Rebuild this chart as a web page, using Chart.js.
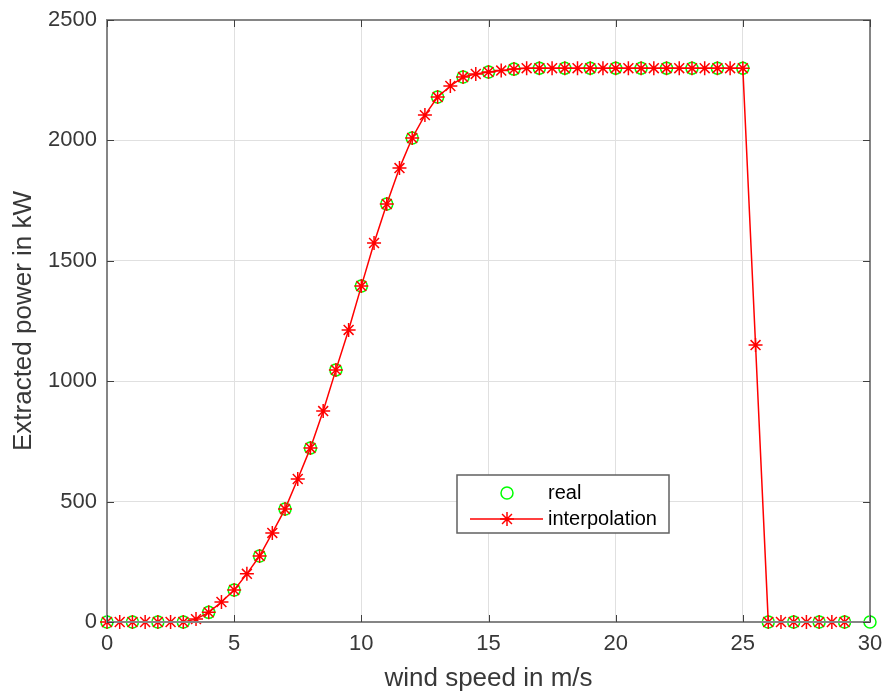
<!DOCTYPE html>
<html>
<head>
<meta charset="utf-8">
<script src="https://cdn.jsdelivr.net/npm/chart.js@4"></script>
<style>
  html, body { margin: 0; padding: 0; background: #fff; }
  #wrap { width: 884px; height: 692px; }
</style>
</head>
<body>
<div id="wrap"><canvas id="powerChart" width="884" height="692"></canvas></div>
<script>
// measured wind speed (m/s) and power (kW)
const realSpeed = [0, 1, 2, 3, 4, 5, 6, 7, 8, 9, 10, 11, 12, 13, 14, 15, 16, 17, 18, 19, 20, 21, 22, 23, 24, 25, 26, 27, 28, 29, 30];
const realPower = [0, 0, 0, 0, 40, 133, 274, 469, 723, 1047, 1395, 1736, 2010, 2180, 2263, 2284, 2296, 2300, 2300, 2300, 2300, 2300, 2300, 2300, 2300, 2300, 0, 0, 0, 0, 0];

// interpolated curve, half-step
const interpSpeed = [0, 0.5, 1, 1.5, 2, 2.5, 3, 3.5, 4, 4.5, 5, 5.5, 6, 6.5, 7, 7.5, 8, 8.5, 9, 9.5,
  10, 10.5, 11, 11.5, 12, 12.5, 13, 13.5, 14, 14.5, 15, 15.5, 16, 16.5, 17, 17.5, 18, 18.5, 19, 19.5,
  20, 20.5, 21, 21.5, 22, 22.5, 23, 23.5, 24, 24.5, 25, 25.5, 26, 26.5, 27, 27.5, 28, 28.5, 29];
const interpPower = [0, 0, 0, 0, 0, 0, 0, 12, 40, 83, 133, 200, 274, 370, 469, 594, 723, 876, 1047, 1213,
  1395, 1574, 1736, 1885, 2010, 2105, 2180, 2226, 2263, 2276, 2284, 2290, 2296, 2300, 2300, 2300, 2300, 2300, 2300, 2300,
  2300, 2300, 2300, 2300, 2300, 2300, 2300, 2300, 2300, 2300, 2300, 1150, 0, 0, 0, 0, 0, 0, 0];

const xTicks = [0, 5, 10, 15, 20, 25, 30];
const yTicks = [0, 500, 1000, 1500, 2000, 2500];

const AXIS = "#858585";
const TEXT = "#383838";
const FONT = "Liberation Sans, Arial, sans-serif";

const toPoints = (xs, ys) => xs.map((x, i) => ({ x, y: ys[i] }));

// box, inward ticks and the legend (matlab-ish)
const boxPlugin = {
  id: "box",
  afterDraw(chart) {
    const { ctx, chartArea: a, scales } = chart;
    ctx.save();
    ctx.strokeStyle = AXIS;
    ctx.lineWidth = 2;
    ctx.strokeRect(a.left, a.top, a.right - a.left, a.bottom - a.top);
    ctx.strokeStyle = "#404040";
    ctx.lineWidth = 1;
    xTicks.forEach(v => {
      const px = Math.round(scales.x.getPixelForValue(v)) + 0.5;
      ctx.beginPath();
      ctx.moveTo(px, a.bottom); ctx.lineTo(px, a.bottom - 7);
      ctx.moveTo(px, a.top); ctx.lineTo(px, a.top + 7);
      ctx.stroke();
    });
    yTicks.forEach(v => {
      const py = Math.round(scales.y.getPixelForValue(v)) + 0.5;
      ctx.beginPath();
      ctx.moveTo(a.left, py); ctx.lineTo(a.left + 7, py);
      ctx.moveTo(a.right, py); ctx.lineTo(a.right - 7, py);
      ctx.stroke();
    });
    ctx.restore();
  },
  afterDatasetsDraw(chart) {
    const { ctx } = chart;
    const lx = 457, ly = 475, lw = 212, lh = 58;
    ctx.save();
    ctx.fillStyle = "#fff";
    ctx.fillRect(lx, ly, lw, lh);
    ctx.strokeStyle = "#606060";
    ctx.lineWidth = 1.5;
    ctx.strokeRect(lx, ly, lw, lh);

    // real
    ctx.strokeStyle = "#00ff00";
    ctx.lineWidth = 1.5;
    ctx.beginPath();
    ctx.arc(lx + 50, ly + 18, 6, 0, Math.PI * 2);
    ctx.stroke();

    // interpolation
    ctx.strokeStyle = "#ff0000";
    ctx.beginPath();
    ctx.moveTo(lx + 13, ly + 44); ctx.lineTo(lx + 86, ly + 44);
    ctx.stroke();
    const cx = lx + 50, cy = ly + 44, r = 7;
    ctx.beginPath();
    for (let k = 0; k < 4; k++) {
      const t = k * Math.PI / 4;
      ctx.moveTo(cx - r * Math.cos(t), cy - r * Math.sin(t));
      ctx.lineTo(cx + r * Math.cos(t), cy + r * Math.sin(t));
    }
    ctx.stroke();

    ctx.fillStyle = "#000";
    ctx.font = "20px " + FONT;
    ctx.textBaseline = "middle";
    ctx.fillText("real", lx + 91, ly + 18);
    ctx.fillText("interpolation", lx + 91, ly + 44);
    ctx.restore();
  }
};

const ctx = document.getElementById("powerChart").getContext("2d");

new Chart(ctx, {
  type: "scatter",
  data: {
    datasets: [
      {
        label: "real",
        data: toPoints(realSpeed, realPower),
        showLine: false,
        pointStyle: "circle",
        pointRadius: 6,
        pointBorderWidth: 1.5,
        pointBorderColor: "#00ff00",
        pointBackgroundColor: "rgba(0,0,0,0)",
        order: 2,
        clip: false
      },
      {
        label: "interpolation",
        data: toPoints(interpSpeed, interpPower),
        showLine: true,
        borderColor: "#ff0000",
        borderWidth: 1.5,
        pointStyle: "star",
        pointRadius: 7,
        pointBorderWidth: 1.5,
        pointBorderColor: "#ff0000",
        pointBackgroundColor: "#ff0000",
        order: 1,
        clip: false
      }
    ]
  },
  options: {
    responsive: false,
    animation: false,
    events: [],
    layout: { padding: { left: 0, top: 20, right: 14, bottom: 0 } },
    plugins: {
      legend: { display: false },
      tooltip: { enabled: false }
    },
    scales: {
      x: {
        type: "linear",
        min: 0,
        max: 30,
        afterBuildTicks: s => { s.ticks = xTicks.map(v => ({ value: v })); },
        afterFit: s => { s.height = 70; s.paddingLeft = 0; s.paddingRight = 0; },
        grid: { color: "#e0e0e0", drawTicks: false },
        border: { display: false },
        ticks: { color: TEXT, font: { family: FONT, size: 22 }, padding: 9, callback: v => String(v) },
        title: {
          display: true,
          text: "wind speed in m/s",
          color: TEXT,
          font: { family: FONT, size: 26 },
          padding: { top: 0, bottom: -2 }
        }
      },
      y: {
        type: "linear",
        min: 0,
        max: 2500,
        afterBuildTicks: s => { s.ticks = yTicks.map(v => ({ value: v })); },
        afterFit: s => { s.width = 107; s.paddingTop = 0; s.paddingBottom = 0; },
        grid: { color: "#e0e0e0", drawTicks: false },
        border: { display: false },
        ticks: { color: TEXT, font: { family: FONT, size: 22 }, padding: 10, callback: v => String(v) },
        title: {
          display: true,
          text: "Extracted power in kW",
          color: TEXT,
          font: { family: FONT, size: 26 },
          padding: { top: 8, bottom: 0 }
        }
      }
    }
  },
  plugins: [boxPlugin]
});
</script>
</body>
</html>
